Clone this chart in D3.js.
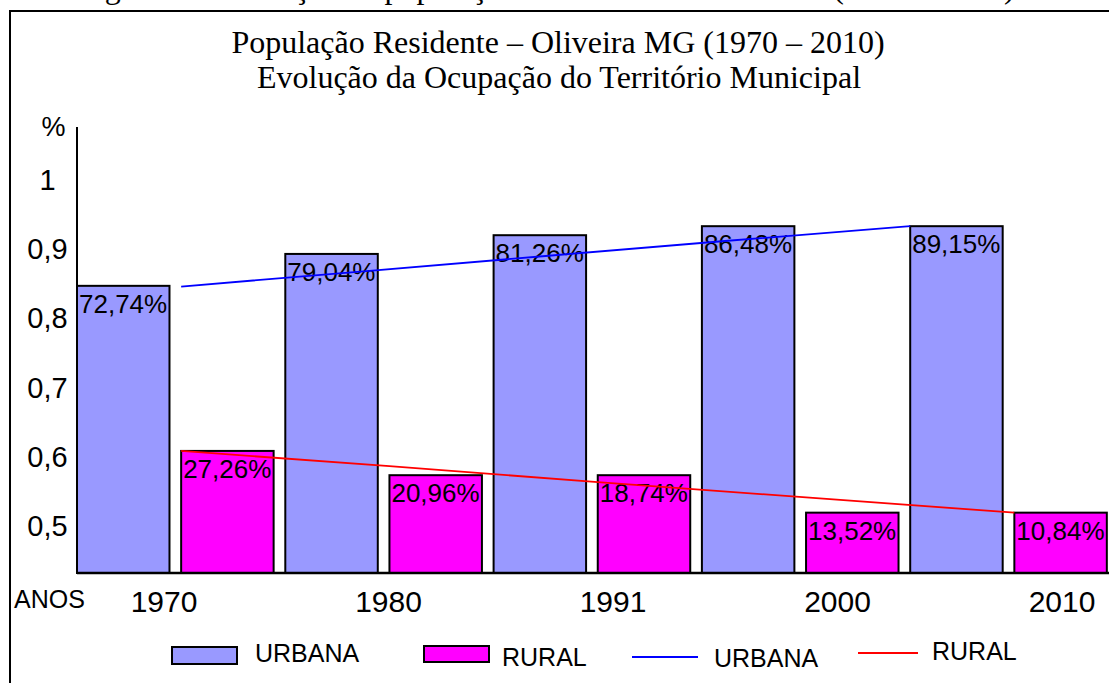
<!DOCTYPE html>
<html>
<head>
<meta charset="utf-8">
<script src="https://cdn.jsdelivr.net/npm/d3@7"></script>
<style>
  body { margin: 0; background: #fff; }
  svg { display: block; }
</style>
</head>
<body>
<svg id="chart"></svg>
<script>
// values (bar heights are in axis units, labels are the printed %)
const years = ["1970", "1980", "1991", "2000", "2010"];
const series = ["URBANA", "RURAL"];
const urbanBars = [0.846, 0.892, 0.919, 0.932, 0.932];
const ruralBars = [0.608, 0.573, 0.573, 0.519, 0.519];
const urbanLabels = ["72,74%", "79,04%", "81,26%", "86,48%", "89,15%"];
const ruralLabels = ["27,26%", "20,96%", "18,74%", "13,52%", "10,84%"];
const urbanLine = [0.845, 0.867, 0.889, 0.911, 0.932];
const ruralLine = [0.608, 0.586, 0.563, 0.541, 0.519];
const yTicks = [0.5, 0.6, 0.7, 0.8, 0.9, 1];

const colors = { URBANA: "#9999ff", RURAL: "#ff00ff" };
const lineColors = { URBANA: "#0000ff", RURAL: "#ff0000" };

const width = 1109, height = 683;
const sans = "'Liberation Sans', Arial, sans-serif";
const serif = "'Liberation Serif', 'Times New Roman', serif";

const svg = d3.select("#chart").attr("width", width).attr("height", height);

// caption of the page above, cut off at the top
svg.append("text")
  .attr("x", 78).attr("y", -2)
  .style("font-family", serif).style("font-size", "32px")
  .text("Figura 1 – Evolução da população residente urbana e rural (1970 – 2010)");

// frame
svg.append("rect")
  .attr("x", 10).attr("y", 11)
  .attr("width", width + 20).attr("height", height + 20)
  .attr("fill", "none").attr("stroke", "#000").attr("stroke-width", 2);

// title
svg.append("text")
  .attr("x", 558).attr("y", 53)
  .attr("text-anchor", "middle")
  .style("font-family", serif).style("font-size", "32px")
  .text("População Residente – Oliveira MG (1970 – 2010)");
svg.append("text")
  .attr("x", 559).attr("y", 88)
  .attr("text-anchor", "middle")
  .style("font-family", serif).style("font-size", "32px")
  .text("Evolução da Ocupação do Território Municipal");

// scales
const x0 = d3.scaleBand().domain(years).range([77, 1118.5]).padding(0);
const x1 = d3.scaleBand().domain(series).range([0, x0.bandwidth()])
  .paddingInner(0.112).paddingOuter(0.056).align(0);
const y = d3.scaleLinear().domain([0.432, 1.075]).range([573, 127]);

const rows = years.map((yr, i) => ({
  year: yr,
  bars: [
    { key: "URBANA", value: urbanBars[i], label: urbanLabels[i] },
    { key: "RURAL", value: ruralBars[i], label: ruralLabels[i] }
  ]
}));

// bars
const groups = svg.append("g").selectAll("g")
  .data(rows).join("g")
  .attr("transform", d => `translate(${x0(d.year)},0)`);

groups.selectAll("rect")
  .data(d => d.bars).join("rect")
  .attr("x", d => x1(d.key))
  .attr("y", d => y(d.value))
  .attr("width", x1.bandwidth())
  .attr("height", d => y.range()[0] - y(d.value))
  .attr("fill", d => colors[d.key])
  .attr("stroke", "#000").attr("stroke-width", 2);

groups.selectAll("text")
  .data(d => d.bars).join("text")
  .attr("x", d => x1(d.key) + 2)
  .attr("y", d => y(d.value) + 27)
  .style("font-family", sans).style("font-size", "26px")
  .text(d => d.label);

// trend lines
const ruralX = d3.scalePoint().domain(years)
  .range([x0(years[0]) + x1("RURAL"), x0(years[4]) + x1("RURAL")]);
const urbanX = d3.scalePoint().domain(years)
  .range([x0(years[0]) + x1("RURAL"), x0(years[4]) + x1("URBANA")]);

svg.append("path")
  .datum(urbanLine)
  .attr("fill", "none").attr("stroke", lineColors.URBANA).attr("stroke-width", 1.8)
  .attr("d", d3.line().x((d, i) => urbanX(years[i])).y(d => y(d)));
svg.append("path")
  .datum(ruralLine)
  .attr("fill", "none").attr("stroke", lineColors.RURAL).attr("stroke-width", 1.8)
  .attr("d", d3.line().x((d, i) => ruralX(years[i])).y(d => y(d)));

// y axis
svg.append("line")
  .attr("x1", 77).attr("x2", 77)
  .attr("y1", y.range()[1]).attr("y2", y.range()[0])
  .attr("stroke", "#000").attr("stroke-width", 2);
svg.append("g").selectAll("text")
  .data(yTicks).join("text")
  .attr("x", 47.5)
  .attr("y", d => y(d) + 10.5)
  .attr("text-anchor", "middle")
  .style("font-family", sans).style("font-size", "29px")
  .text(d => String(d).replace(".", ","));
svg.append("text")
  .attr("x", 53.5).attr("y", 136)
  .attr("text-anchor", "middle")
  .style("font-family", sans).style("font-size", "27px")
  .text("%");

// x axis
svg.append("line")
  .attr("x1", 77).attr("x2", width)
  .attr("y1", 573).attr("y2", 573)
  .attr("stroke", "#000").attr("stroke-width", 2.5);
const yearX = d3.scalePoint().domain(years).range([164, 1062]);
svg.append("g").selectAll("text")
  .data(years).join("text")
  .attr("x", d => yearX(d))
  .attr("y", 612)
  .attr("text-anchor", "middle")
  .style("font-family", sans).style("font-size", "30px")
  .text(d => d);
svg.append("text")
  .attr("x", 14).attr("y", 608)
  .style("font-family", sans).style("font-size", "25px")
  .text("ANOS");

// legend
const legend = svg.append("g").style("font-family", sans).style("font-size", "25px");
legend.append("rect").attr("x", 172).attr("y", 647).attr("width", 65).attr("height", 17)
  .attr("fill", colors.URBANA).attr("stroke", "#000").attr("stroke-width", 2);
legend.append("text").attr("x", 255).attr("y", 662).text("URBANA");
legend.append("rect").attr("x", 424).attr("y", 646).attr("width", 65).attr("height", 16)
  .attr("fill", colors.RURAL).attr("stroke", "#000").attr("stroke-width", 2);
legend.append("text").attr("x", 502).attr("y", 666).text("RURAL");
legend.append("line").attr("x1", 632).attr("x2", 698).attr("y1", 657).attr("y2", 657)
  .attr("stroke", lineColors.URBANA).attr("stroke-width", 1.8);
legend.append("text").attr("x", 714).attr("y", 667).text("URBANA");
legend.append("line").attr("x1", 858).attr("x2", 918).attr("y1", 653).attr("y2", 653)
  .attr("stroke", lineColors.RURAL).attr("stroke-width", 1.8);
legend.append("text").attr("x", 932).attr("y", 660).text("RURAL");
</script>
</body>
</html>
